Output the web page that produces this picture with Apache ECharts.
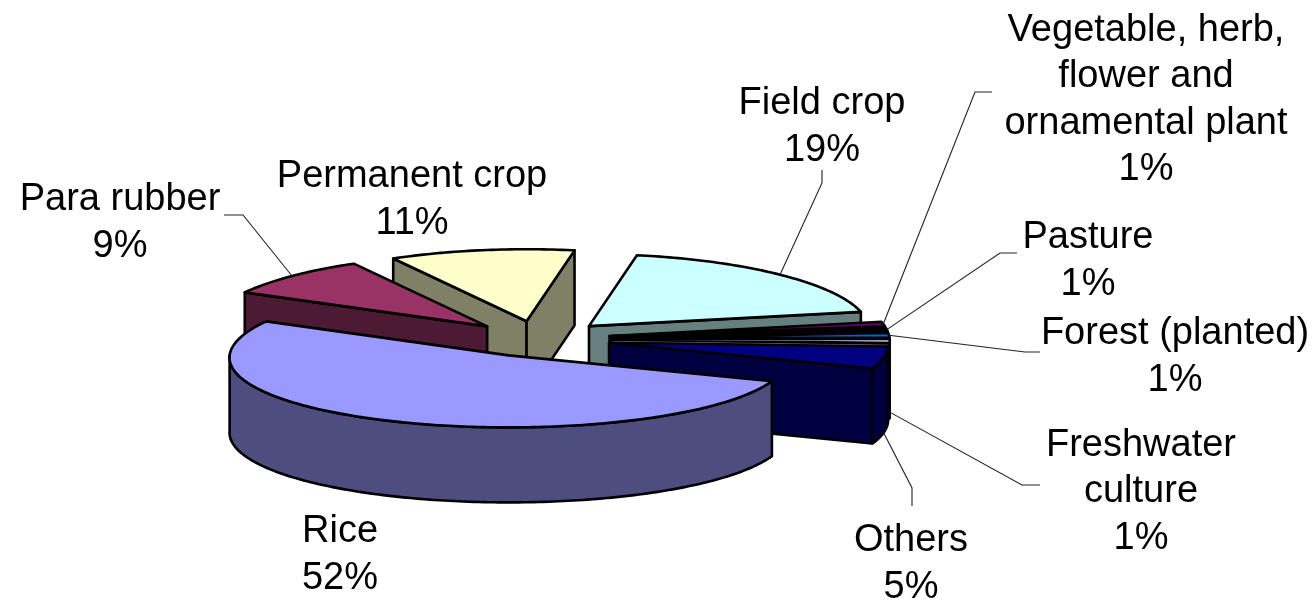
<!DOCTYPE html>
<html><head><meta charset="utf-8">
<style>html,body{margin:0;padding:0;background:#fff}#c{width:1316px;height:602px}</style>
<script src="https://cdn.jsdelivr.net/npm/echarts@6/dist/echarts.min.js"></script>
</head><body><div id="c"></div>
<script>
const categories = ['Rice','Para rubber','Permanent crop','Field crop','Vegetable, herb,\nflower and\nornamental plant','Pasture','Forest (planted)','Freshwater\nculture','Others'];
const shares = [52,9,11,19,1,1,1,1,5];
const topColors = ['#9999FF','#993366','#FFFFCC','#CCFFFF','#660066','#000000','#0066CC','#CCCCFF','#000080'];
const sideColors = ['#4D4D80','#4D1A33','#808066','#668080','#000000','#000000','#000000','#666680','#000040'];
const paintOrder = [8,2,1,3,4,5,6,7,7.5];

// layout (not data)
const firstAngle = 111, cx = 538.6, cy = 339, rx = 279, ry = 72, depth = 75, explode = 72, perspective = 0.03;
const labelCenters = [[340,555],[120,223],[412,200],[822,127],[1146,100],[1088,261],[1175,357],[1141,492],[911,564]];
const leaderElbows = [null,[[243,215],[224,215]],null,[[822,183],[822,170]],[[975,92],[992,92]],[[1000,253],[1017,253]],[[1025,352],[1040,352]],[[1022,485],[1040,485]],[[912,488],[912,506]]];
const leaderDrop = [0,0,0,0,0,0,0,0.95,1];

const total = shares.reduce((a,b)=>a+b,0);
const rad = d => d*Math.PI/180;
function geom(i){
  let s = firstAngle;
  for(let k=0;k<i;k++) s += shares[k]/total*360;
  s = s % 360;
  const e = s + shares[i]/total*360, m = (s+e)/2;
  const ax = cx + explode*Math.sin(rad(m)), ay = cy - explode*ry/rx*0.97*Math.cos(rad(m));
  const rim = t => [ax + rx*Math.sin(rad(t))*(1-perspective*Math.cos(rad(t))), ay - ry*Math.cos(rad(t))];
  return {s,e,m,ax,ay,rim};
}
function renderItem(params, api){
  const i = params.dataIndex, g = geom(i), children = [];
  const z = paintOrder[i]*10;
  const base = {stroke:'#000', lineWidth:2.6, lineJoin:'round'};
  const push = (pts, fill, o) => children.push({type:'polygon', z2:z+o, shape:{points:pts}, style:Object.assign({fill}, base)});
  const apex = [g.ax,g.ay], down = p => [p[0],p[1]+depth];
  const sn = d => Math.sin(rad(d));
  if(sn(g.s) < 0){ const r=g.rim(g.s); push([apex,r,down(r),down(apex)], sideColors[i], 0); }
  if(sn(g.e) > 0){ const r=g.rim(g.e); push([apex,r,down(r),down(apex)], sideColors[i], 0); }
  const lo = Math.max(g.s,90), hi = Math.min(g.e,270);
  if(hi > lo){
    const up=[]; for(let t=lo;t<hi;t+=1) up.push(g.rim(t)); up.push(g.rim(hi));
    push(up.concat(up.map(down).reverse()), sideColors[i], 1);
  }
  const top=[apex]; for(let t=g.s;t<g.e;t+=1) top.push(g.rim(t)); top.push(g.rim(g.e));
  push(top, topColors[i], 2);
  if(leaderElbows[i]){
    const a = g.rim(g.m); a[1] += leaderDrop[i]*depth;
    children.push({type:'polyline', z2:500, shape:{points:[a].concat(leaderElbows[i])}, style:{stroke:'#222',lineWidth:1.1,fill:null}});
  }
  children.push({type:'text', z2:600, style:{
    text: categories[i]+'\n'+api.value(0)+'%', x:labelCenters[i][0], y:labelCenters[i][1],
    align:'center', verticalAlign:'middle', fontFamily:'"Liberation Sans",Arial,sans-serif', fontSize:38, lineHeight:46.5, fill:'#000'
  }});
  return {type:'group', children};
}
const chart = echarts.init(document.getElementById('c'), null, {renderer:'canvas'});
chart.setOption({
  animation:false, backgroundColor:'#fff',
  series:[{type:'custom', coordinateSystem:'none', renderItem, silent:true,
    data: shares.map((v,i)=>({name:categories[i].replace(/\n/g,' '), value:[v]}))}]
});
</script></body></html>
